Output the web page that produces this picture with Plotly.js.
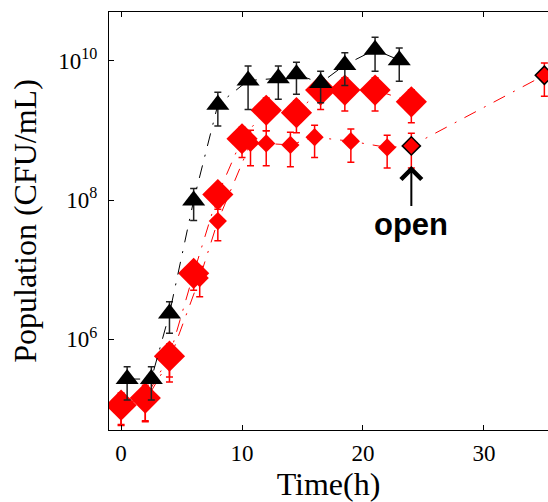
<!DOCTYPE html>
<html>
<head>
<meta charset="utf-8">
<script src="https://cdn.plot.ly/plotly-3.0.1.min.js"></script>
<style>html,body{margin:0;padding:0;background:#fff;}#chart{width:548px;height:502px;}</style>
</head>
<body>
<div id="chart"></div>
<script>
// Large red diamonds
const bigX   = [0, 2, 4, 6, 8, 10, 12, 14.5, 16.5, 18.5, 21, 24];
const bigY   = [1.14e5, 1.44e5, 5.75e5, 8.9e6, 1.2e8, 7.6e8, 1.95e9, 1.8e9, 3.8e9, 3.8e9, 3.8e9, 2.57e9];
const bigErr = [5.6e4, 7.6e4, 2.85e5, 3.8e6, 4e7, 3.5e8, 9.6e8, 8.7e8, 1.8e9, 1.9e9, 1.9e9, 1.28e9];

// Small red diamonds (last two outlined: "open")
const smallX   = [0, 2, 4, 6.5, 8, 10.7, 12, 14, 16, 19, 22, 24, 35];
const smallY   = [1.0e5, 1.3e5, 5.0e5, 7.6e6, 5.0e7, 6.6e8, 6.5e8, 6.2e8, 8.0e8, 7.0e8, 5.7e8, 6.0e8, 6.2e9];
const smallErr = [4e4, 6.4e4, 2.55e5, 3.5e6, 2.4e7, 3.5e8, 3.4e8, 3.2e8, 3.9e8, 3.5e8, 2.8e8, 3.1e8, 3.1e9];
const smallOutlined = [false, false, false, false, false, false, false, false, false, false, false, true, true];

// Black triangles
const triX   = [0.5, 2.5, 4, 6, 8, 10.5, 13, 14.5, 16.5, 18.5, 21, 23];
const triY   = [2.7e5, 2.7e5, 2.35e6, 9.9e7, 2.34e9, 5.2e9, 5.6e9, 6.4e9, 4.8e9, 8.7e9, 1.44e10, 1.02e10];
const triErr = [1.35e5, 1.35e5, 1.12e6, 4.8e7, 1.18e9, 3.2e9, 2.8e9, 3.1e9, 2.3e9, 4.3e9, 7.3e9, 5.1e9];

// Axis ticks
const xTicks = [0, 10, 20, 30];
const yTicks = [1e6, 1e8, 1e10];
const yTickText = ['10<sup>6</sup>', '10<sup>8</sup>', '10<sup>10</sup>'];

const annotX = 24;
const annotText = '<b>open</b>';

const RED = '#ff0000';
const DASH = '13px,9px,2px,9px';
const serif = 'Liberation Serif, Times New Roman, serif';

const traces = [
  {
    x: bigX, y: bigY, type: 'scatter', mode: 'lines+markers',
    line: {color: RED, width: 1, dash: DASH},
    marker: {symbol: 'diamond', size: 24, color: RED, line: {width: 0}},
    error_y: {type: 'data', array: bigErr, visible: true, color: RED, thickness: 1.5, width: 3.5}
  },
  {
    x: smallX, y: smallY, type: 'scatter', mode: 'lines+markers',
    line: {color: RED, width: 1, dash: DASH},
    marker: {
      symbol: 'diamond', size: 14, color: RED,
      line: {color: smallOutlined.map(o => o ? '#000' : RED), width: smallOutlined.map(o => o ? 1.5 : 0)}
    },
    error_y: {type: 'data', array: smallErr, visible: true, color: RED, thickness: 1.5, width: 3.5}
  },
  {
    x: triX, y: triY, type: 'scatter', mode: 'lines+markers',
    line: {color: '#000', width: 1, dash: DASH},
    marker: {symbol: 'triangle-up', size: 20, color: '#000', line: {width: 0}},
    error_y: {type: 'data', array: triErr, visible: true, color: '#222', thickness: 1.5, width: 3.5}
  }
];

const idx = smallX.indexOf(annotX);

const layout = {
  width: 548, height: 502,
  margin: {l: 109, r: 0, t: 12, b: 72, pad: 0},
  paper_bgcolor: '#fff', plot_bgcolor: '#fff',
  showlegend: false,
  xaxis: {
    range: [-1, 35.3], tickvals: xTicks, ticks: 'inside', ticklen: 5, tickcolor: '#000',
    showline: true, linecolor: '#000', linewidth: 1, mirror: 'ticks',
    showgrid: false, zeroline: false,
    tickfont: {family: serif, size: 23, color: '#000'},
    ticklabelstandoff: 2,
    title: {text: 'Time(h)', font: {family: serif, size: 32, color: '#000'}, standoff: 5}
  },
  yaxis: {
    type: 'log', range: [4.7, 10.7], tickvals: yTicks, ticktext: yTickText,
    ticks: 'inside', ticklen: 5, tickcolor: '#000',
    showline: true, linecolor: '#000', linewidth: 1, mirror: false,
    showgrid: false, zeroline: false,
    tickfont: {family: serif, size: 23, color: '#000'},
    ticklabelstandoff: 6,
    title: {text: 'Population (CFU/mL)', font: {family: serif, size: 32, color: '#000'}, standoff: 12}
  },
  annotations: [{
    x: annotX, y: Math.log10(smallY[idx]), xref: 'x', yref: 'y',
    text: annotText, showarrow: true, ax: 0, ay: 79,
    arrowhead: 4, arrowsize: 2, arrowwidth: 2, arrowcolor: '#000', standoff: 20,
    font: {family: 'Liberation Sans, Arial, sans-serif', size: 31, color: '#000'}
  }]
};

Plotly.newPlot('chart', traces, layout, {displayModeBar: false, staticPlot: true});
</script>
</body>
</html>
